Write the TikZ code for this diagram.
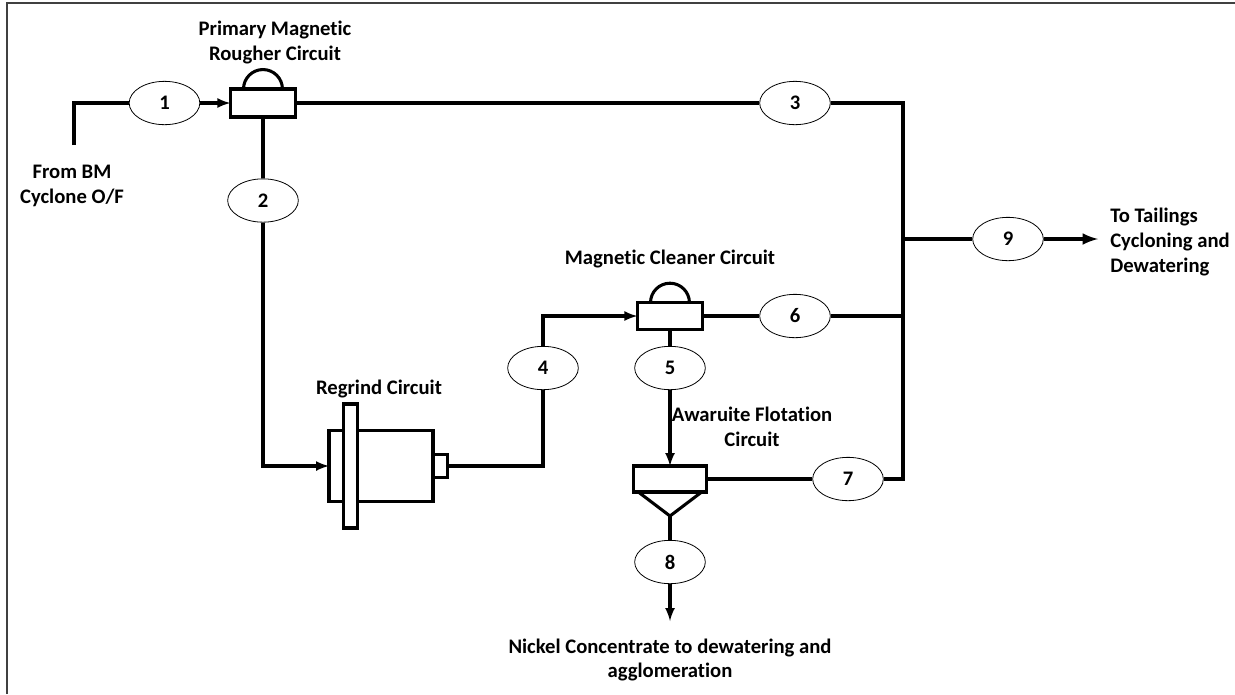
\documentclass[tikz,border=0pt]{standalone}
\usepackage{fontspec}
\setmainfont[RawFeature={-liga}]{Carlito}
\usetikzlibrary{calc, shapes.geometric}

\tikzset{
  stream/.style={draw=black, fill=white, ellipse, inner sep=0pt, minimum width=53pt, minimum height=32.5pt, font=\fontsize{15.5}{15.5}\selectfont\bfseries, line width=.6pt},
  unit/.style={draw=black, fill=white, rectangle, inner sep=0pt, outer sep=0pt, line width=2.3pt},
  label/.style={align=center, font=\fontsize{15.5}{18.4}\selectfont\bfseries, inner sep=0pt},
  pipe/.style={line width=2.3pt},
  flow/.style={pipe, -latex}
}

\begin{document}
\begin{tikzpicture}[x=.75pt, y=-.75pt]
  \useasboundingbox (0, 0) rectangle (1235, 694);
  \coordinate (framebl) at (7, 694);
  \coordinate (frametl) at (7, 3);
  \coordinate (frametr) at (1235, 3);
  \draw[black!75, line width=1.3pt] (framebl) -- (frametl) -- (frametr);

  % units
  \node[unit, minimum width=49pt, minimum height=21pt] (rougher) at (263, 103) {};
  \node[unit, minimum width=49pt, minimum height=20pt] (cleaner) at (670, 316) {};
  \node[unit, minimum width=55pt, minimum height=19.5pt] (flotation) at (670, 479) {};
  \draw[line width=2.3pt] ($(rougher.north)+(-19.5, 0)$) arc (180:0:14.6pt);
  \draw[line width=2.3pt] ($(cleaner.north)+(-19.5, 0)$) arc (180:0:14.6pt);
  \coordinate (cone) at (670, 516);
  \draw[line width=2.3pt] ($(flotation.south west)+(5, 0)$) -- (cone) -- ($(flotation.south east)+(-5, 0)$);

  % mill
  \node[unit, minimum width=78pt, minimum height=53pt] (mill) at (381, 466) {};
  \node[unit, minimum width=10pt, minimum height=93pt] (flange) at (350.5, 466) {};
  \node[unit, minimum width=11pt, minimum height=17pt, anchor=west] (outlet) at (mill.east) {};

  % streams
  \node[stream] (s1) at (164.5, 103) {1};
  \node[stream] (s2) at (263, 200.5) {2};
  \node[stream] (s3) at (795, 103) {3};
  \node[stream] (s4) at (543, 368) {4};
  \node[stream] (s5) at (670, 368) {5};
  \node[stream] (s6) at (795, 316) {6};
  \node[stream] (s7) at (848, 479) {7};
  \node[stream] (s8) at (670, 562) {8};
  \node[stream] (s9) at (1008, 239) {9};

  % free ends and bends
  \coordinate (feed) at (74, 145);
  \coordinate (bus3) at (903, 103);
  \coordinate (bus9) at (903, 239);
  \coordinate (bus6) at (903, 316);
  \coordinate (bus7) at (903, 479);
  \coordinate (tails) at (1098, 239);
  \coordinate (conc) at (670, 621);

  \draw[pipe] (feed) |- (s1);
  \draw[flow] (s1) -- (rougher.west);
  \draw[pipe] (rougher.east) -- (s3) -- (bus3) -- (bus7) -- (s7) -- (flotation.east);
  \draw[pipe] (rougher.south) -- (s2);
  \draw[flow] (s2) |- (mill.west);
  \draw[pipe] (outlet.east) -| (s4);
  \draw[flow] (s4) |- (cleaner.west);
  \draw[pipe] (cleaner.east) -- (s6) -- (bus6);
  \draw[pipe] (cleaner.south) -- (s5);
  \draw[flow] (s5) -- (flotation.north);
  \draw[pipe] (cone) -- (s8);
  \draw[flow] (s8) -- (conc);
  \draw[line width=2.9pt] (bus9) -- (s9);
  \draw[line width=2.9pt, -latex] (s9) -- (tails);

  % labels
  \node[label] (lrougher) at (275, 42.5) {Primary Magnetic\\Rougher Circuit};
  \node[label] (lfeed) at (72, 186) {From BM\\Cyclone O/F};
  \node[label] (lmill) at (379, 389) {Regrind Circuit};
  \node[label] (lcleaner) at (670, 259) {Magnetic Cleaner Circuit};
  \node[label] (lflotation) at (752, 427) {Awaruite Flotation\\Circuit};
  \node[label, align=left] (ltails) at (1170, 242) {To Tailings\\Cycloning and\\Dewatering};
  \node[label] (lconc) at (670, 660) {Nickel Concentrate to dewatering and\\agglomeration};
\end{tikzpicture}
\end{document}
